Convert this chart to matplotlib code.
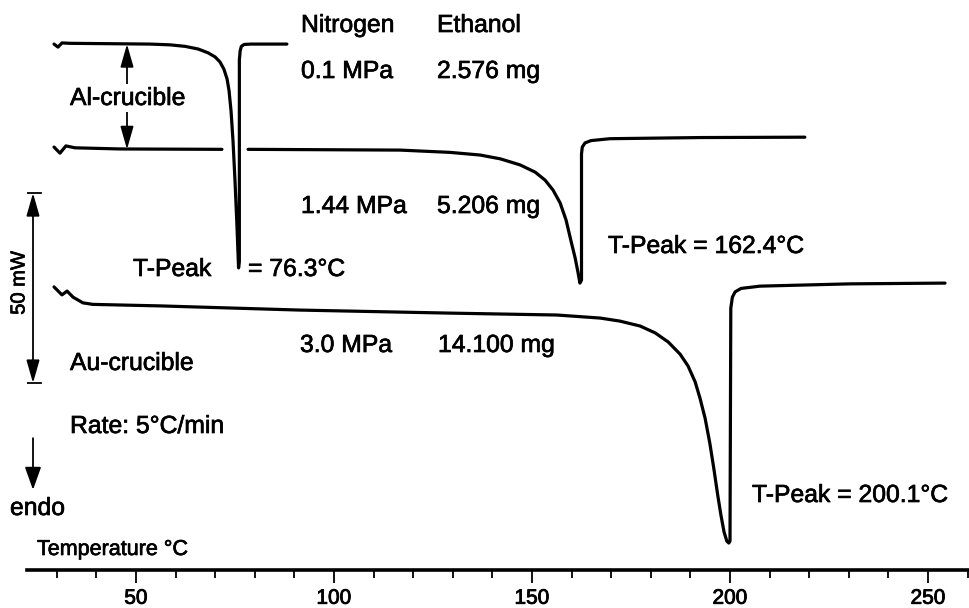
import numpy as np
import matplotlib
matplotlib.use("Agg")
import matplotlib.pyplot as plt
import matplotlib.patheffects as pe
from matplotlib.ticker import MultipleLocator

plt.rcParams['font.family'] = ['Liberation Sans', 'DejaVu Sans']

# ---- data: temperature (°C) and heat flow (mW, vertically offset curves) ----
t_01 = [29.3, 30.3, 31.3, 33.3, 53.5, 58.6, 62.4, 65.7, 68.2, 70.0, 71.2, 72.2, 73.0,
        73.5, 74.0, 74.5, 75.0, 75.5, 75.9, 76.1, 76.1, 76.3, 76.6, 77.3, 79.0, 88.1]
q_01 = [138.4, 137.6, 138.7, 138.6, 138.4, 138.2, 137.8, 137.1, 136.1, 135.0, 133.7, 131.8, 129.2,
        126.1, 120.8, 112.9, 102.4, 90.5, 79.5, 81.1, 134.2, 136.6, 137.8, 138.3, 138.4, 138.4]

t_144 = [29.3, 30.8, 32.3, 34.6, 46.0, 71.7, np.nan, 78.3, 116.7, 129.3, 136.9, 142.0,
         147.0, 150.8, 153.3, 155.3, 157.1, 158.6, 159.8, 160.9, 161.6, 162.1,
         162.5, 162.5, 162.7, 163.4, 164.9, 169.7, 192.4, 218.9]
q_144 = [111.3, 109.7, 111.6, 111.1, 110.8, 110.7, np.nan, 110.7, 110.5, 109.9, 109.2, 108.2,
         106.6, 104.7, 102.6, 100.0, 96.6, 92.1, 86.8, 82.1, 78.4, 75.5,
         76.3, 109.5, 111.3, 112.4, 113.0, 113.5, 113.8, 113.9]

t_30 = [29.3, 31.3, 32.6, 34.1, 36.6, 39.1, 56.1, 91.4, 129.3, 156.3, 167.2, 172.2,
        177.3, 181.1, 184.4, 187.4, 189.4, 191.2, 192.4, 193.7, 194.9, 195.9, 196.9,
        197.7, 198.5, 199.2, 199.7, 200.0, 200.2, 200.6, 201.3, 202.8, 207.6, 230.3, 254.3]
q_30 = [74.5, 72.4, 73.4, 71.8, 70.3, 69.9, 69.5, 68.4, 67.6, 67.1, 66.3, 65.5,
        64.2, 62.4, 60.0, 56.8, 53.7, 49.5, 45.3, 40.0, 33.4, 26.8, 19.7,
        14.5, 10.0, 7.6, 7.1, 7.6, 68.9, 71.8, 73.2, 74.1, 74.7, 75.3, 75.5]

x_major = [50, 100, 150, 200, 250]
scale_bar_mw = 50

# ---- figure ----
W, H = 969, 608
fig = plt.figure(figsize=(W / 100, H / 100), dpi=100)
ax = fig.add_axes([27 / W, 38 / H, 942 / W, 570 / H])

px_per_deg = 3.96
T_left = 50 - (136 - 27) / px_per_deg
T_right = 50 + (969 - 136) / px_per_deg
ax.set_xlim(T_left, T_right)
ax.set_ylim(0, 570 / 3.8)

lw = 2.3
for t, q in [(t_01, q_01), (t_144, q_144), (t_30, q_30)]:
    ax.plot(t, q, color='black', lw=lw, solid_joinstyle='round', solid_capstyle='round')

for s in ['top', 'right', 'left']:
    ax.spines[s].set_visible(False)
ax.spines['bottom'].set_linewidth(2.6)
ax.set_yticks([])
ax.set_xticks(x_major)
ax.xaxis.set_minor_locator(MultipleLocator(10))
ax.tick_params(axis='x', which='major', direction='out', length=9.5, width=1.3,
               labelsize=15, pad=4)
ax.tick_params(axis='x', which='minor', direction='out', length=6, width=1.3)
thick = [pe.withStroke(linewidth=0.6, foreground='black')]
for lab in ax.get_xticklabels():
    lab.set_path_effects(thick)

# ---- arrows ----
T_al = 50 - (136 - 127) / px_per_deg
ax.annotate('', xy=(T_al, 138.4), xytext=(T_al, 110.7),
            arrowprops=dict(arrowstyle='<|-|>,head_length=0.7,head_width=0.2',
                            mutation_scale=20, color='black', lw=1.3,
                            shrinkA=0, shrinkB=0), zorder=1)

T_bar = 50 - (136 - 33) / px_per_deg
y0 = 49.2
ax.annotate('', xy=(T_bar, y0 + scale_bar_mw), xytext=(T_bar, y0),
            arrowprops=dict(arrowstyle='<|-|>,head_length=0.7,head_width=0.2',
                            mutation_scale=20, color='black', lw=1.3,
                            shrinkA=0, shrinkB=0))
dT = 7.5 / px_per_deg
for yy in (y0, y0 + scale_bar_mw):
    ax.plot([T_bar - dT, T_bar + dT], [yy, yy], color='black', lw=1.3)

ax.annotate('', xy=(T_bar, 21.1), xytext=(T_bar, 34.7),
            arrowprops=dict(arrowstyle='-|>,head_length=0.7,head_width=0.25',
                            mutation_scale=20, color='black', lw=1.3,
                            shrinkA=0, shrinkB=0))

# ---- texts (pixel positions: left x, baseline y) ----
def ftxt(x, y, s, size=17.8, **kw):
    t = fig.text(x / W, 1 - y / H, s, fontsize=size, ha='left', va='baseline', **kw)
    t.set_path_effects([pe.withStroke(linewidth=0.5, foreground='black')])
    return t

ftxt(301, 32, 'Nitrogen')
ftxt(437, 32, 'Ethanol')
ftxt(301, 78, '0.1 MPa')
ftxt(437, 78, '2.576 mg')
ftxt(70, 105, 'Al-crucible',
     bbox=dict(facecolor='white', edgecolor='none', pad=1.5), zorder=5)
ftxt(301, 213, '1.44 MPa')
ftxt(437, 213, '5.206 mg')
ftxt(133, 276, 'T-Peak')
ftxt(248, 276, '= 76.3°C')
ftxt(608, 253, 'T-Peak = 162.4°C')
ftxt(300, 352, '3.0 MPa')
ftxt(438, 352, '14.100 mg')
ftxt(70, 370, 'Au-crucible')
ftxt(70, 433, 'Rate: 5°C/min')
ftxt(10, 515, 'endo')
ftxt(37, 555, 'Temperature °C', size=15.5)
ftxt(752, 502, 'T-Peak = 200.1°C')
t50 = fig.text(19 / W, 1 - 283 / H, '50 mW', fontsize=14.5, rotation=90,
               ha='center', va='center')
t50.set_path_effects([pe.withStroke(linewidth=0.5, foreground='black')])

fig.savefig('out.png', dpi=100)
